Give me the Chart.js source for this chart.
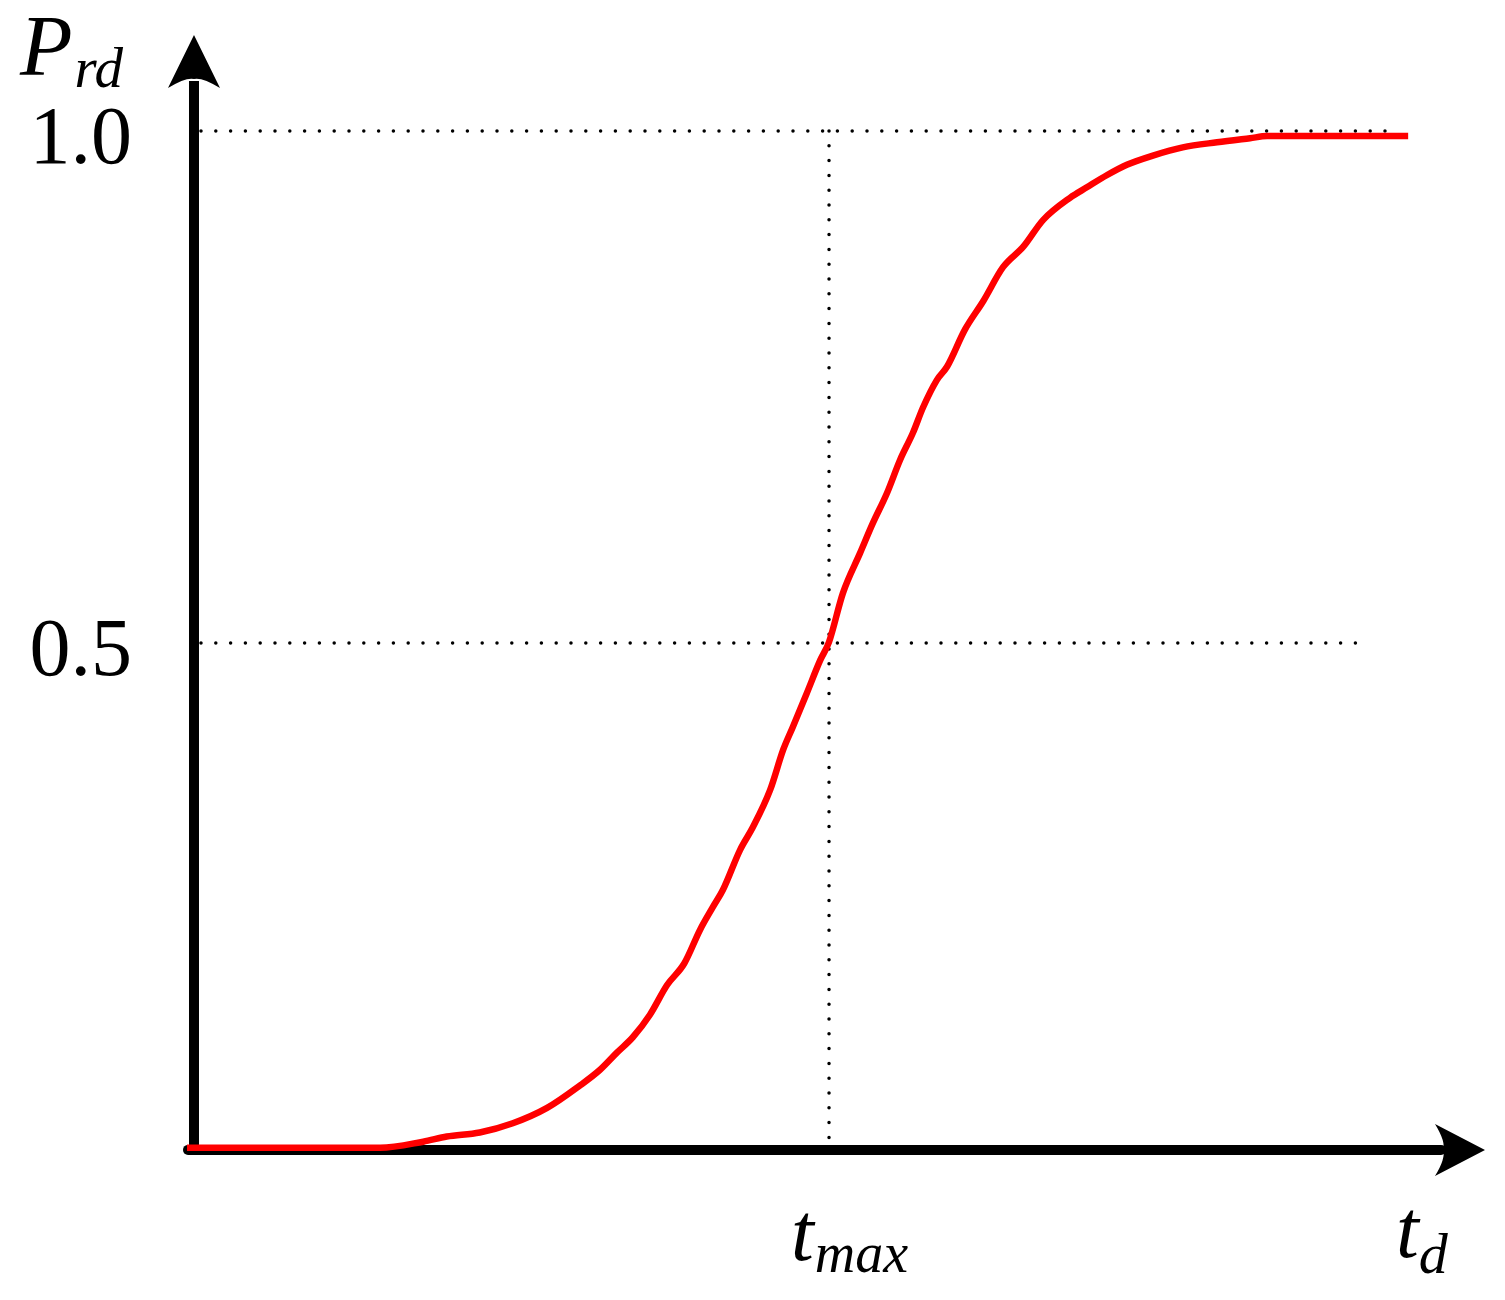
<!DOCTYPE html>
<html>
<head>
<meta charset="utf-8">
<script src="https://cdn.jsdelivr.net/npm/chart.js@4.4.0/dist/chart.umd.min.js"></script>
<style>
  html, body { margin: 0; padding: 0; background: #fff; }
  #wrap { width: 1505px; height: 1300px; }
</style>
</head>
<body>
<div id="wrap"><canvas id="cdfChart"></canvas></div>
<script>
// t_d in units of t_max, P_rd
const tValues = [-0.011, 0.293, 0.361, 0.398, 0.450, 0.502, 0.556, 0.608, 0.639, 0.666,
    0.691, 0.718, 0.745, 0.772, 0.797, 0.817, 0.833, 0.860, 0.880, 0.907,
    0.928, 0.943, 0.965, 0.986, 1.000, 1.022, 1.049, 1.069, 1.091, 1.112,
    1.132, 1.148, 1.170, 1.186, 1.214, 1.243, 1.274, 1.306, 1.337, 1.380,
    1.406, 1.438, 1.469, 1.510, 1.557, 1.611, 1.663, 1.690, 1.912];
const pValues = [0.007, 0.007, 0.013, 0.018, 0.022, 0.031, 0.046, 0.068, 0.083, 0.100,
    0.115, 0.137, 0.166, 0.187, 0.220, 0.242, 0.259, 0.298, 0.320, 0.356,
    0.396, 0.418, 0.451, 0.483, 0.501, 0.549, 0.588, 0.617, 0.646, 0.679,
    0.705, 0.730, 0.757, 0.770, 0.806, 0.834, 0.867, 0.887, 0.913, 0.935,
    0.945, 0.957, 0.967, 0.976, 0.984, 0.989, 0.993, 0.995, 0.995];

const yTickValues = [1.0, 0.5];
const yTickLabels = ['1.0', '0.5'];
const guideEnds = [1.897, 1.852];   // where each horizontal dotted line stops (t units)
const tMax = 1.0;

const curvePoints = tValues.map((t, i) => ({ x: t, y: pValues[i] }));

const SERIF = '"Times New Roman", "Liberation Serif", Tinos, Times, serif';

// axes with arrows, dotted guides and the italic labels
const axesPlugin = {
    id: 'axesPlugin',
    beforeDatasetsDraw(chart) {
        const ctx = chart.ctx;
        const xs = chart.scales.x, ys = chart.scales.y;
        const x0 = xs.getPixelForValue(0);
        const yBase = ys.getPixelForValue(0.005);

        ctx.save();
        // dotted guides
        ctx.strokeStyle = '#000';
        ctx.lineWidth = 3.5;
        ctx.lineCap = 'round';
        ctx.setLineDash([0, 14.8]);
        yTickValues.forEach((v, i) => {
            const py = ys.getPixelForValue(v);
            ctx.beginPath();
            ctx.moveTo(x0 + 7, py);
            ctx.lineTo(xs.getPixelForValue(guideEnds[i]), py);
            ctx.stroke();
        });
        const pxMax = xs.getPixelForValue(tMax);
        ctx.beginPath();
        ctx.moveTo(pxMax, ys.getPixelForValue(1.0));
        ctx.lineTo(pxMax, yBase - 5);
        ctx.stroke();
        ctx.setLineDash([]);

        // y axis
        const yTip = chart.chartArea.top;
        ctx.lineWidth = 10;
        ctx.lineCap = 'butt';
        ctx.beginPath();
        ctx.moveTo(x0, ys.getPixelForValue(0));
        ctx.lineTo(x0, yTip + 46);
        ctx.stroke();
        ctx.fillStyle = '#000';
        ctx.beginPath();
        ctx.moveTo(x0, yTip);
        ctx.lineTo(x0 + 26, yTip + 53);
        ctx.quadraticCurveTo(x0 + 8, yTip + 42, x0, yTip + 44);
        ctx.quadraticCurveTo(x0 - 8, yTip + 42, x0 - 26, yTip + 53);
        ctx.closePath();
        ctx.fill();

        // x axis
        const xTip = chart.chartArea.right;
        ctx.lineCap = 'round';
        ctx.beginPath();
        ctx.moveTo(chart.chartArea.left + 3, yBase);
        ctx.lineTo(xTip - 44, yBase);
        ctx.stroke();
        ctx.beginPath();
        ctx.moveTo(xTip, yBase);
        ctx.lineTo(xTip - 50, yBase - 26);
        ctx.quadraticCurveTo(xTip - 39, yBase - 8, xTip - 42, yBase);
        ctx.quadraticCurveTo(xTip - 39, yBase + 8, xTip - 50, yBase + 26);
        ctx.closePath();
        ctx.fill();
        ctx.restore();
    },
    afterDraw(chart) {
        const ctx = chart.ctx;
        const xs = chart.scales.x, ys = chart.scales.y;
        const x0 = xs.getPixelForValue(0);
        ctx.save();
        ctx.fillStyle = '#000';
        ctx.textBaseline = 'alphabetic';

        // tick labels
        ctx.font = '82px ' + SERIF;
        ctx.textAlign = 'right';
        yTickValues.forEach((v, i) => {
            ctx.fillText(yTickLabels[i], x0 - 62, ys.getPixelForValue(v) + 32);
        });

        ctx.textAlign = 'left';
        // P_rd
        ctx.font = 'italic 86px ' + SERIF;
        ctx.fillText('P', 20, 75);
        let w = ctx.measureText('P').width;
        ctx.font = 'italic 57px ' + SERIF;
        ctx.fillText('rd', 20 + w + 2, 87);

        // t_max
        const pxMax = xs.getPixelForValue(tMax);
        ctx.font = 'italic 82px ' + SERIF;
        ctx.fillText('t', pxMax - 38, 1260);
        w = ctx.measureText('t').width;
        ctx.font = 'italic 56px ' + SERIF;
        ctx.fillText('max', pxMax - 38 + w + 1, 1272);

        // t_d
        ctx.font = 'italic 82px ' + SERIF;
        ctx.fillText('t', 1396, 1257);
        w = ctx.measureText('t').width;
        ctx.font = 'italic 58px ' + SERIF;
        ctx.fillText('d', 1396 + w, 1273);
        ctx.restore();
    }
};

new Chart(document.getElementById('cdfChart').getContext('2d'), {
    type: 'line',
    data: {
        datasets: [{
            data: curvePoints,
            borderColor: '#ff0000',
            borderWidth: 6.5,
            pointRadius: 0,
            cubicInterpolationMode: 'monotone',
            fill: false
        }]
    },
    options: {
        responsive: true,
        maintainAspectRatio: false,
        animation: false,
        layout: { padding: { left: 185, right: 20, top: 35, bottom: 145 } },
        plugins: {
            legend: { display: false },
            tooltip: { enabled: false }
        },
        scales: {
            x: { type: 'linear', min: -0.01417, max: 2.033, display: false },
            y: { min: 0, max: 1.09375, display: false }
        }
    },
    plugins: [axesPlugin]
});
</script>
</body>
</html>
